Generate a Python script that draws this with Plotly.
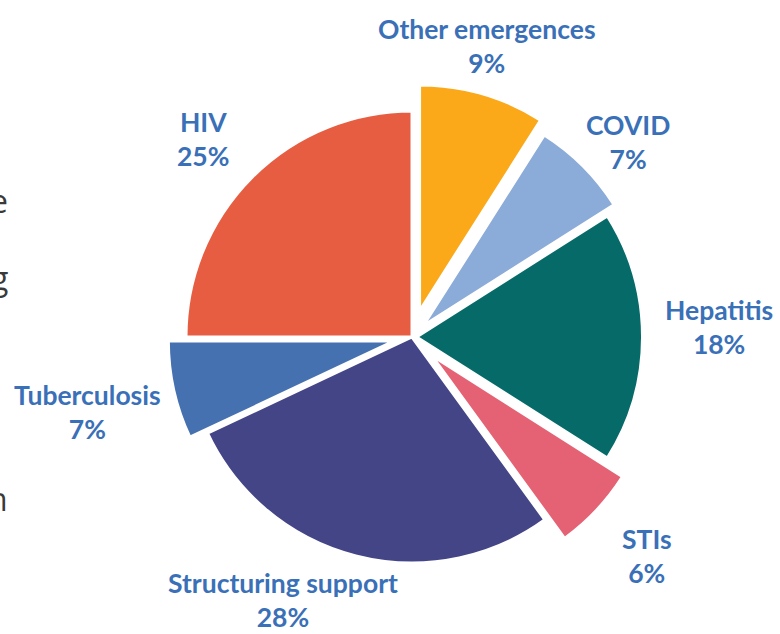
import plotly.graph_objects as go

labels = ["Other emergences", "COVID", "Hepatitis", "STIs",
          "Structuring support", "Tuberculosis", "HIV"]
values = [9, 7, 18, 6, 28, 7, 25]
colors = ["#FBA919", "#8BABD8", "#066B68", "#E46274",
          "#434587", "#4671B0", "#E65D41"]
pulls = [0.12, 0.07, 0.02, 0.12, 0.0, 0.08, 0.0]

W, H = 780, 634
LABEL_COLOR = "#3A70B7"
FONT = "Lato"

# label anchor positions (pixels) for the outside labels
label_pos = {
    "Other emergences": (487, 46),
    "COVID": (628, 142),
    "Hepatitis": (719, 327),
    "STIs": (647, 556),
    "Structuring support": (283, 600),
    "Tuberculosis": (87, 412),
    "HIV": (203, 139),
}

fig = go.Figure()
cx, cy, rad = 412, 337, 226
half = rad * (1 + max(pulls))
fig.add_trace(go.Pie(
    labels=labels, values=values, sort=False, direction="clockwise",
    rotation=0, pull=pulls,
    marker=dict(colors=colors, line=dict(color="white", width=3)),
    textinfo="none", hoverinfo="skip", showlegend=False,
    domain=dict(x=[(cx - half) / W, (cx + half) / W],
                y=[(H - cy - half) / H, (H - cy + half) / H]),
))

annotations = []
for lab, val in zip(labels, values):
    px, py = label_pos[lab]
    annotations.append(dict(
        x=px / W, y=1 - py / H, xref="paper", yref="paper",
        text=f"<b>{lab}<br>{val}%</b>", showarrow=False,
        xanchor="center", yanchor="middle", align="center",
        font=dict(family=FONT, size=26.5, color=LABEL_COLOR),
    ))

# cut-off body text fragments at the left edge
for ch, py in [("e", 200), ("g", 278), ("n", 498)]:
    annotations.append(dict(
        x=10 / W, y=1 - py / H, xref="paper", yref="paper", text=ch,
        showarrow=False, xanchor="right", yanchor="middle",
        font=dict(family="Open Sans", size=32, color="#3a3a3a"),
    ))

fig.update_layout(
    width=W, height=H, margin=dict(l=0, r=0, t=0, b=0),
    paper_bgcolor="white", plot_bgcolor="white",
    annotations=annotations,
)
fig.write_html("out.html")
